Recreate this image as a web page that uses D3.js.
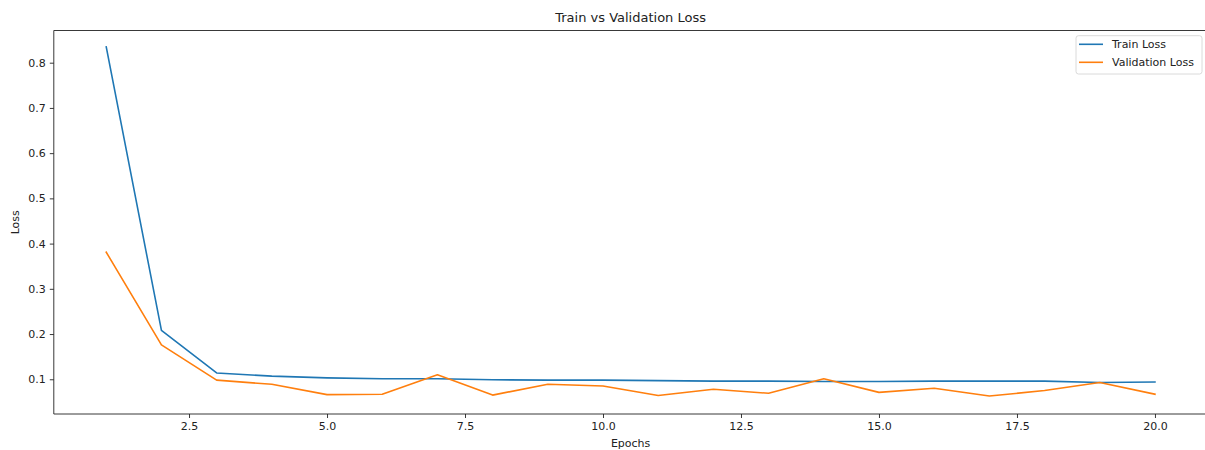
<!DOCTYPE html>
<html>
<head>
<meta charset="utf-8">
<script src="https://cdn.jsdelivr.net/npm/d3@7"></script>
<style>
  html, body { margin: 0; padding: 0; background: #fff; }
  svg { display: block; font-family: "DejaVu Sans", sans-serif; }
</style>
</head>
<body>
<svg id="chart" width="1205" height="450"></svg>
<script>
const epochs = [1,2,3,4,5,6,7,8,9,10,11,12,13,14,15,16,17,18,19,20];
const trainLoss = [0.835, 0.208, 0.114, 0.107, 0.103, 0.101, 0.101, 0.099, 0.098, 0.098,
                   0.097, 0.096, 0.096, 0.095, 0.095, 0.096, 0.096, 0.096, 0.093, 0.094];
const valLoss = [0.381, 0.176, 0.098, 0.089, 0.066, 0.067, 0.110, 0.065, 0.089, 0.085,
                 0.064, 0.078, 0.069, 0.101, 0.071, 0.080, 0.063, 0.075, 0.093, 0.067];
const xTicks = [2.5, 5.0, 7.5, 10.0, 12.5, 15.0, 17.5, 20.0];
const yTicks = [0.1, 0.2, 0.3, 0.4, 0.5, 0.6, 0.7, 0.8];
const seriesNames = ["Train Loss", "Validation Loss"];
const colors = ["#1f77b4", "#ff7f0e"];
const title = "Train vs Validation Loss";
const xLabel = "Epochs";
const yLabel = "Loss";

const svg = d3.select("#chart");
const L = 53.8, R = 1207.4, T = 30.5, B = 414;

const x = d3.scaleLinear().domain([0.05, 20.95]).range([L, R]);
const y = d3.scaleLinear().domain([0.0232, 0.8712]).range([B, T]);

const clip = svg.append("defs").append("clipPath").attr("id", "clip")
  .append("rect").attr("x", L).attr("y", T).attr("width", R - L).attr("height", B - T);

const xAxis = svg.append("g").attr("transform", `translate(0,${B})`)
  .call(d3.axisBottom(x).tickValues(xTicks).tickFormat(d3.format(".1f")).tickSizeOuter(0).tickSize(4).tickPadding(4));
const yAxis = svg.append("g").attr("transform", `translate(${L},0)`)
  .call(d3.axisLeft(y).tickValues(yTicks).tickFormat(d3.format(".1f")).tickSizeOuter(0).tickSize(4).tickPadding(4));
[xAxis, yAxis].forEach(g => {
  g.selectAll("text").attr("font-size", 11).attr("fill", "#222").attr("font-family", "DejaVu Sans, sans-serif");
  g.selectAll("line").attr("stroke", "#222").attr("stroke-width", 0.9);
  g.select(".domain").remove();
});

// spines
svg.append("line").attr("x1", L).attr("x2", L).attr("y1", T).attr("y2", B).attr("stroke", "#222").attr("stroke-width", 0.9);
svg.append("line").attr("x1", L).attr("x2", R).attr("y1", B).attr("y2", B).attr("stroke", "#222").attr("stroke-width", 0.9);
svg.append("line").attr("x1", L).attr("x2", R).attr("y1", T).attr("y2", T).attr("stroke", "#222").attr("stroke-width", 0.9);

const line = d3.line().x((d, i) => x(epochs[i])).y(d => y(d));
const plot = svg.append("g").attr("clip-path", "url(#clip)");
[trainLoss, valLoss].forEach((s, k) => {
  plot.append("path").datum(s).attr("d", line).attr("fill", "none")
    .attr("stroke", colors[k]).attr("stroke-width", 1.6).attr("stroke-linejoin", "round").attr("stroke-linecap", "square");
});

svg.append("text").attr("x", (L + R) / 2).attr("y", 22).attr("text-anchor", "middle")
  .attr("font-size", 13).attr("fill", "#222").text(title);
svg.append("text").attr("x", (L + R) / 2).attr("y", 447).attr("text-anchor", "middle")
  .attr("font-size", 11).attr("fill", "#222").text(xLabel);
svg.append("text").attr("transform", `translate(19,${(T + B) / 2}) rotate(-90)`).attr("text-anchor", "middle")
  .attr("font-size", 11).attr("fill", "#222").text(yLabel);

// legend
const lg = svg.append("g");
lg.append("rect").attr("x", 1076).attr("y", 35.7).attr("width", 126).attr("height", 38.3)
  .attr("rx", 2.5).attr("fill", "#fff").attr("fill-opacity", 0.8).attr("stroke", "#d6d6d6").attr("stroke-width", 0.9);
seriesNames.forEach((n, k) => {
  const yy = 44.3 + k * 18;
  lg.append("line").attr("x1", 1079).attr("x2", 1103).attr("y1", yy).attr("y2", yy)
    .attr("stroke", colors[k]).attr("stroke-width", 1.6);
  lg.append("text").attr("x", 1112).attr("y", yy + 4).attr("font-size", 11).attr("fill", "#222").text(n);
});
</script>
</body>
</html>
